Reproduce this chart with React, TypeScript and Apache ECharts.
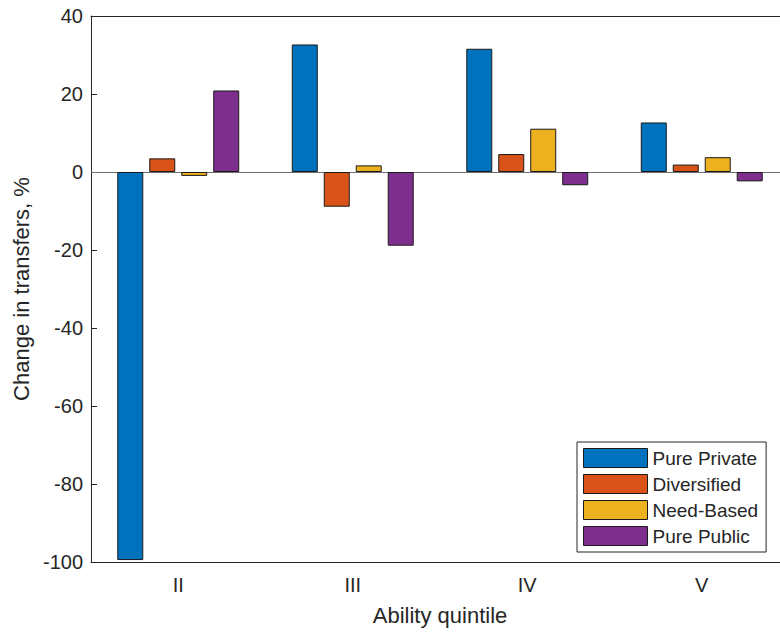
import React, { useEffect, useRef } from "react";
import * as echarts from "echarts";

const categories = ["II", "III", "IV", "V"];
const purePrivate = [-99.5, 32.7, 31.6, 12.7];
const diversified = [3.5, -8.9, 4.6, 1.9];
const needBased = [-1.0, 1.7, 11.1, 3.8];
const purePublic = [20.9, -18.9, -3.4, -2.4];
const seriesNames = ["Pure Private", "Diversified", "Need-Based", "Pure Public"];
const seriesColors = ["#0072BD", "#D95319", "#EDB120", "#7E2F8E"];

const FONT = "'Liberation Sans', Arial, Helvetica, sans-serif";
const AX = "#262626";

export default function App() {
  const ref = useRef<HTMLDivElement>(null);
  useEffect(() => {
    if (!ref.current) return;
    const chart = echarts.init(ref.current, null, { renderer: "svg" });
    const values = [purePrivate, diversified, needBased, purePublic];
    const series: any[] = values.map((data, i) => ({
      name: seriesNames[i],
      type: "bar",
      data,
      barWidth: 26,
      barGap: "23%",
      itemStyle: { color: seriesColors[i], borderColor: "#1a1a1a", borderWidth: 1 },
      ...(i === 0
        ? {
            markLine: {
              silent: true,
              symbol: "none",
              label: { show: false },
              lineStyle: { color: "#6e6e6e", width: 1, type: "solid" },
              data: [{ yAxis: 0 }],
              z: 1,
            },
          }
        : {}),
    }));
    chart.setOption({
      animation: false,
      backgroundColor: "#ffffff",
      textStyle: { fontFamily: FONT },
      grid: { left: 91, top: 16, width: 698, height: 546, containLabel: false },
      legend: {
        orient: "vertical",
        left: 577,
        top: 442,
        padding: [6, 8, 6, 6],
        itemWidth: 64,
        itemHeight: 19,
        itemGap: 6,
        icon: "rect",
        backgroundColor: "#ffffff",
        borderColor: AX,
        borderWidth: 1,
        borderRadius: 0,
        itemStyle: { borderColor: "#1a1a1a", borderWidth: 1 },
        textStyle: { fontFamily: FONT, fontSize: 19, color: AX, padding: [0, 0, 0, 0] },
        data: seriesNames,
      },
      xAxis: [
        {
          type: "category",
          data: categories,
          position: "bottom",
          name: "Ability quintile",
          nameLocation: "middle",
          nameGap: 42,
          nameTextStyle: { fontFamily: FONT, fontSize: 22, color: AX },
          axisLine: { onZero: false, lineStyle: { color: AX, width: 1 } },
          axisTick: { inside: true, alignWithLabel: true, length: 6, lineStyle: { color: AX } },
          axisLabel: { fontFamily: FONT, fontSize: 20, color: AX, margin: 13 },
          splitLine: { show: false },
        },
        {
          type: "category",
          data: categories,
          position: "top",
          axisLine: { onZero: false, lineStyle: { color: AX, width: 1 } },
          axisTick: { inside: true, alignWithLabel: true, length: 6, lineStyle: { color: AX } },
          axisLabel: { show: false },
          splitLine: { show: false },
        },
      ],
      yAxis: [
        {
          type: "value",
          min: -100,
          max: 40,
          interval: 20,
          name: "Change in transfers, %",
          nameLocation: "middle",
          nameGap: 55,
          nameRotate: 90,
          nameTextStyle: { fontFamily: FONT, fontSize: 22, color: AX },
          axisLine: { show: true, onZero: false, lineStyle: { color: AX, width: 1 } },
          axisTick: { show: true, inside: true, length: 6, lineStyle: { color: AX } },
          axisLabel: { fontFamily: FONT, fontSize: 20, color: AX, margin: 8 },
          splitLine: { show: false },
        },
        {
          type: "value",
          min: -100,
          max: 40,
          interval: 20,
          position: "right",
          axisLine: { show: true, onZero: false, lineStyle: { color: AX, width: 1 } },
          axisTick: { show: true, inside: true, length: 6, lineStyle: { color: AX } },
          axisLabel: { show: false },
          splitLine: { show: false },
        },
      ],
      series,
    });
    return () => chart.dispose();
  }, []);
  return (
    <div
      style={{
        position: "fixed",
        left: 0,
        top: 0,
        width: 780,
        height: 635,
        overflow: "hidden",
        background: "#fff",
      }}
    >
      <div ref={ref} style={{ width: 800, height: 635 }} />
    </div>
  );
}
